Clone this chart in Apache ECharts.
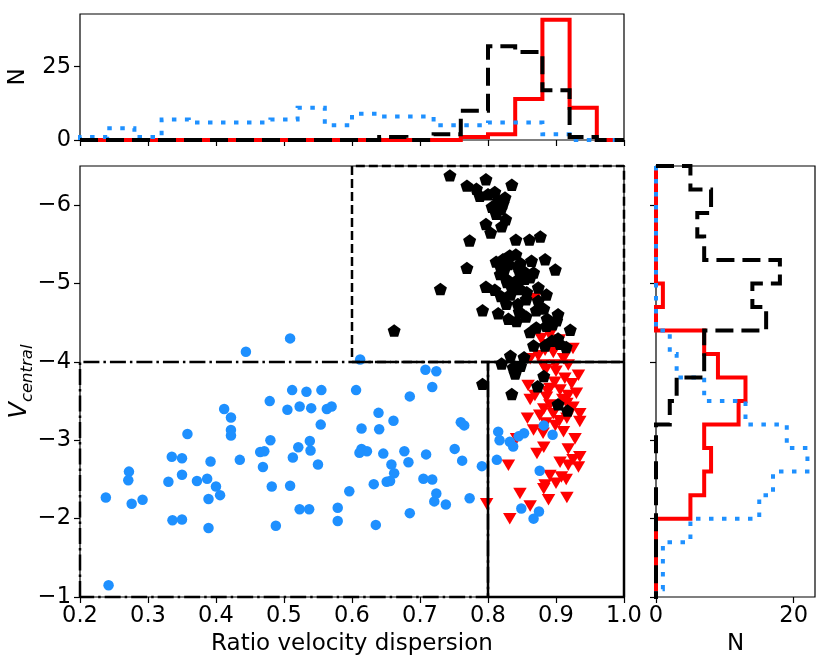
<!DOCTYPE html>
<html>
<head>
<meta charset="utf-8">
<script src="https://cdn.jsdelivr.net/npm/echarts@6/dist/echarts.min.js"></script>
<style>
  html, body { margin: 0; padding: 0; background: #fff; }
  #chart { width: 830px; height: 667px; }
</style>
</head>
<body>
<div id="chart"></div>
<script>
// scatter points: [ratio velocity dispersion, V_central]
var bluePoints = [
    [0.509,-4.30],[0.444,-4.13],[0.512,-3.64],[0.479,-3.50],[0.505,-3.39],[0.523,-3.43],[0.412,-3.40],
    [0.422,-3.29],[0.422,-3.13],[0.422,-3.06],[0.358,-3.08],[0.480,-3.00],[0.521,-2.91],[0.465,-2.85],
    [0.471,-2.86],[0.513,-2.78],[0.335,-2.79],[0.350,-2.77],[0.392,-2.73],[0.435,-2.75],[0.469,-2.66],
    [0.272,-2.60],[0.271,-2.49],[0.350,-2.56],[0.330,-2.47],[0.372,-2.48],[0.387,-2.51],[0.400,-2.41],
    [0.406,-2.30],[0.389,-2.25],[0.482,-2.41],[0.509,-2.42],[0.523,-2.12],[0.238,-2.27],[0.276,-2.19],
    [0.292,-2.24],[0.336,-1.98],[0.350,-1.99],[0.389,-1.88],[0.488,-1.91],[0.242,-1.15],
    [0.612,-4.03],[0.708,-3.90],[0.724,-3.88],[0.718,-3.68],[0.685,-3.56],[0.606,-3.64],[0.533,-3.62],
    [0.555,-3.64],[0.540,-3.41],[0.563,-3.40],[0.570,-3.43],[0.554,-3.20],[0.639,-3.35],[0.661,-3.25],
    [0.614,-3.15],[0.640,-3.14],[0.760,-3.23],[0.765,-3.19],[0.538,-2.99],[0.539,-2.87],[0.614,-2.89],
    [0.622,-2.86],[0.611,-2.84],[0.646,-2.83],[0.677,-2.86],[0.683,-2.72],[0.658,-2.69],[0.709,-2.82],
    [0.751,-2.89],[0.762,-2.74],[0.791,-2.67],[0.550,-2.69],[0.662,-2.58],[0.651,-2.47],[0.656,-2.48],
    [0.632,-2.44],[0.596,-2.35],[0.705,-2.51],[0.718,-2.50],[0.724,-2.32],[0.721,-2.22],[0.738,-2.18],
    [0.773,-2.26],[0.537,-2.12],[0.579,-2.14],[0.579,-1.97],[0.635,-1.92],[0.685,-2.07],
    [0.815,-3.11],[0.817,-3.00],[0.832,-2.98],[0.837,-2.92],[0.845,-3.05],[0.853,-3.09],[0.882,-3.19],
    [0.895,-3.07],[0.813,-2.75],[0.876,-2.61],[0.849,-2.13],[0.875,-2.09],[0.867,-2.00]
];
var blackPoints = [
    [0.744,-6.38],[0.797,-6.33],[0.769,-6.25],[0.783,-6.21],[0.835,-6.26],[0.800,-6.14],[0.810,-6.17],
    [0.825,-6.10],[0.815,-6.06],[0.819,-5.95],[0.812,-5.89],[0.797,-5.76],[0.820,-5.73],[0.804,-5.65],
    [0.773,-5.55],[0.841,-5.56],[0.861,-5.56],[0.877,-5.60],[0.822,-5.31],[0.832,-5.36],[0.841,-5.37],
    [0.818,-5.23],[0.830,-5.25],[0.864,-5.29],[0.884,-5.31],[0.899,-5.18],[0.769,-5.20],[0.818,-5.12],
    [0.847,-5.14],[0.867,-5.14],[0.827,-5.06],[0.842,-5.04],[0.854,-5.06],[0.835,-4.95],[0.847,-4.93],
    [0.857,-4.89],[0.874,-4.95],[0.730,-4.93],[0.797,-4.96],[0.819,-4.84],[0.827,-4.74],[0.844,-4.74],
    [0.874,-4.78],[0.792,-4.66],[0.871,-4.66],[0.903,-4.61],[0.830,-4.55],[0.842,-4.52],[0.887,-4.55],
    [0.901,-4.53],[0.862,-4.38],[0.871,-4.44],[0.886,-4.46],[0.921,-4.41],[0.903,-4.30],[0.894,-4.27],
    [0.662,-4.40],
    [0.915,-4.19],[0.867,-4.21],[0.884,-4.21],[0.906,-4.23],[0.833,-4.08],[0.853,-4.06],[0.820,-3.98],
    [0.837,-3.93],[0.840,-3.85],[0.882,-3.82],[0.792,-3.72],[0.873,-3.69],[0.835,-3.59],[0.903,-3.46],
    [0.917,-3.38],
    [0.788,-6.12],[0.822,-6.02],[0.806,-5.98],[0.826,-5.82],[0.812,-5.28],[0.824,-5.18],[0.844,-5.22],
    [0.848,-5.26],[0.852,-5.16],[0.828,-5.02],[0.862,-5.08],[0.810,-4.92],[0.833,-4.86],[0.856,-4.80],
    [0.886,-4.86],[0.815,-4.62],[0.846,-4.64],[0.856,-4.58],[0.882,-4.68],[0.895,-4.48],[0.848,-3.95]
];
var redPoints = [
    [0.891,-4.34],[0.884,-4.15],[0.874,-4.08],[0.896,-4.12],[0.925,-4.17],[0.911,-4.04],[0.862,-4.04],
    [0.881,-3.96],[0.899,-3.96],[0.918,-3.96],[0.933,-3.83],[0.913,-3.79],[0.923,-3.72],[0.859,-3.70],
    [0.891,-3.66],[0.906,-3.64],[0.869,-3.57],[0.886,-3.55],[0.918,-3.57],[0.891,-3.45],[0.916,-3.47],
    [0.876,-3.32],[0.896,-3.34],[0.935,-3.34],[0.916,-3.28],
    [0.867,-3.13],[0.881,-3.09],[0.899,-3.19],[0.911,-3.11],[0.842,-3.02],[0.928,-3.02],[0.882,-2.91],
    [0.872,-2.83],[0.918,-2.89],[0.935,-2.79],[0.906,-2.72],[0.918,-2.68],[0.933,-2.66],[0.830,-2.68],
    [0.891,-2.55],[0.908,-2.53],[0.884,-2.43],[0.847,-2.32],[0.889,-2.24],[0.916,-2.27],[0.862,-2.16],
    [0.798,-2.19],[0.832,-2.00],
    [0.869,-4.81],[0.878,-4.30],[0.905,-4.28],[0.885,-4.22],[0.900,-3.88],[0.885,-3.90],[0.888,-3.62],
    [0.898,-3.74],[0.930,-3.60],[0.910,-3.52],[0.862,-3.52],[0.882,-3.40],[0.905,-3.25],[0.925,-3.42],
    [0.885,-3.22],[0.935,-3.24],[0.858,-3.28],[0.925,-2.75],[0.900,-2.45],[0.915,-2.50],[0.882,-2.38]
];

// top histogram: 20 bins of 0.04 from 0.2
var topBinStart = 0.2, topBinWidth = 0.04;
var topRed   = [0,0,0,0,0,0,0,0,0,0,0,0,0,0,1,2,14,41,11,0];
var topBlack = [0,0,0,0,0,0,0,0,0,0,0,1,0,2,10,32,30,17,1,0];
var topBlue  = [1,4,1,7,6,6,6,7,11,5,9,8,8,5,5,6,6,2,0,0];

// right histogram: bins of 0.3 from -6.5
var rightBinStart = -6.5, rightBinWidth = 0.3;
var rightRed   = [0,0,0,0,0,1,0,7,9,13,12,7,8,7,5,0,0,0,0];
var rightBlack = [5,8,6,7,18,14,16,7,7,3,2,0,0,0,0,0,0,0,0];
var rightBlue  = [0,0,0,0,0,0,0,2,3,7,13,19,22,17,15,5,1,1,0];

// region boxes
var dashedBox  = [[0.6,-6.5],[0.6,-4],[1.0,-4],[1.0,-6.5],[0.6,-6.5]];
var dashDotBox = [[0.2,-1],[0.2,-4],[0.8,-4],[0.8,-1],[0.2,-1]];
var solidBox   = [[0.8,-1],[0.8,-4],[1.0,-4],[1.0,-1],[0.8,-1]];

var yTicks = [-6,-5,-4,-3,-2,-1];
var topNTicks = [0, 25];
var rightNTicks = [0, 20];

var BLUE = '#1E90FF', RED = '#FF0000', BLACK = '#000000';
var FONT = 'DejaVu Sans';

function edgesOf(start, width, n) {
    var e = [];
    for (var i = 0; i <= n; i++) e.push(+(start + i * width).toFixed(4));
    return e;
}
// outline of a step histogram, like matplotlib histtype='step'
function stepPoints(edges, counts, horizontal) {
    var pts = [[edges[0], 0]];
    for (var i = 0; i < counts.length; i++) {
        pts.push([edges[i], counts[i]]);
        pts.push([edges[i + 1], counts[i]]);
    }
    pts.push([edges[counts.length], 0]);
    if (horizontal) {
        pts = pts.map(function (p) { return [p[1], p[0]]; });
    }
    return pts;
}

var topEdges = edgesOf(topBinStart, topBinWidth, topRed.length);
var rightEdges = edgesOf(rightBinStart, rightBinWidth, rightRed.length);

var pentagon = 'path://M0,-1L0.951,-0.309L0.588,0.809L-0.588,0.809L-0.951,-0.309Z';
var minus = function (v) { return v < 0 ? '\u2212' + Math.abs(v) : '' + v; };

var tick = { show: true, length: 6, lineStyle: { color: BLACK, width: 1.2 } };
var labelStyle = { color: BLACK, fontSize: 22.5, fontFamily: FONT };
var nameStyle = { color: BLACK, fontSize: 23, fontFamily: FONT };

function histLine(data, xi, yi, color, type, z) {
    return {
        type: 'line', xAxisIndex: xi, yAxisIndex: yi, data: data,
        symbol: 'none', animation: false, z: z,
        lineStyle: { color: color, width: 4, type: type, cap: 'butt', join: 'miter' }
    };
}
function boxLine(data, type, z) {
    return {
        type: 'line', xAxisIndex: 0, yAxisIndex: 0, data: data,
        symbol: 'none', animation: false, clip: false, z: z,
        lineStyle: { color: BLACK, width: 2.5, type: type, cap: 'butt' }
    };
}

var chart = echarts.init(document.getElementById('chart'));
var option = {
    backgroundColor: '#fff',
    animation: false,
    textStyle: { fontFamily: FONT },
    grid: [
        { left: 80, top: 166, width: 544, height: 431, show: true, borderColor: BLACK, borderWidth: 1.2, containLabel: false, outerBoundsMode: 'none' },
        { left: 80, top: 14, width: 544, height: 126, show: true, borderColor: BLACK, borderWidth: 1.2, containLabel: false, outerBoundsMode: 'none' },
        { left: 656, top: 166, width: 159, height: 431, show: true, borderColor: BLACK, borderWidth: 1.2, containLabel: false, outerBoundsMode: 'none' }
    ],
    xAxis: [
        {
            gridIndex: 0, type: 'value', min: 0.2, max: 1.0, interval: 0.1,
            axisLine: { show: false }, splitLine: { show: false }, axisTick: tick,
            axisLabel: Object.assign({ margin: 8, formatter: function (v) { return v.toFixed(1); } }, labelStyle),
            name: 'Ratio velocity dispersion', nameLocation: 'middle', nameGap: 36,
            nameMoveOverlap: false,
            nameTextStyle: nameStyle
        },
        {
            gridIndex: 1, type: 'value', min: 0.2, max: 1.0, interval: 0.1,
            axisLine: { show: false }, splitLine: { show: false }, axisTick: tick,
            axisLabel: { show: false }
        },
        {
            gridIndex: 2, type: 'value', min: 0, max: 23.1,
            axisLine: { show: false }, splitLine: { show: false },
            axisTick: Object.assign({ customValues: rightNTicks }, tick),
            axisLabel: Object.assign({ margin: 8, customValues: rightNTicks }, labelStyle),
            name: 'N', nameLocation: 'middle', nameGap: 36,
            nameMoveOverlap: false,
            nameTextStyle: nameStyle
        }
    ],
    yAxis: [
        {
            gridIndex: 0, type: 'value', min: -6.5, max: -1, inverse: true,
            axisLine: { show: false }, splitLine: { show: false },
            axisTick: Object.assign({ customValues: yTicks }, tick),
            axisLabel: Object.assign({ margin: 9, customValues: yTicks, formatter: minus }, labelStyle),
            name: '{v|V}{s|central}', nameLocation: 'middle', nameGap: 44,
            nameMoveOverlap: false,
            nameTextStyle: {
                color: BLACK,
                rich: {
                    v: { fontSize: 24, fontStyle: 'italic', fontFamily: FONT, color: BLACK },
                    s: { fontSize: 16.5, fontStyle: 'italic', fontFamily: FONT, color: BLACK, padding: [15, 0, 0, 0] }
                }
            }
        },
        {
            gridIndex: 1, type: 'value', min: 0, max: 43,
            axisLine: { show: false }, splitLine: { show: false },
            axisTick: Object.assign({ customValues: topNTicks }, tick),
            axisLabel: Object.assign({ margin: 9, customValues: topNTicks }, labelStyle),
            name: 'N', nameLocation: 'middle', nameGap: 50,
            nameMoveOverlap: false,
            nameTextStyle: nameStyle
        },
        {
            gridIndex: 2, type: 'value', min: -6.5, max: -1, inverse: true,
            axisLine: { show: false }, splitLine: { show: false },
            axisTick: Object.assign({ customValues: yTicks }, tick),
            axisLabel: { show: false }
        }
    ],
    series: [
        // scatter
        {
            type: 'scatter', xAxisIndex: 0, yAxisIndex: 0, data: redPoints, z: 2,
            symbol: 'triangle', symbolRotate: 180, symbolSize: [13.5, 11.5],
            itemStyle: { color: RED, opacity: 1 }
        },
        {
            type: 'scatter', xAxisIndex: 0, yAxisIndex: 0, data: blackPoints, z: 3,
            symbol: pentagon, symbolSize: [13, 12.4],
            itemStyle: { color: BLACK, opacity: 1 }
        },
        {
            type: 'scatter', xAxisIndex: 0, yAxisIndex: 0, data: bluePoints, z: 4,
            symbol: 'circle', symbolSize: 10.5,
            itemStyle: { color: BLUE, opacity: 1 }
        },
        // region boxes
        boxLine(dashDotBox, [16, 4, 2.5, 4], 5),
        boxLine(dashedBox, [9, 4], 5),
        boxLine(solidBox, 'solid', 6),
        // top histogram
        histLine(stepPoints(topEdges, topRed, false), 1, 1, RED, 'solid', 2),
        histLine(stepPoints(topEdges, topBlue, false), 1, 1, BLUE, [4.5, 8.5], 3),
        histLine(stepPoints(topEdges, topBlack, false), 1, 1, BLACK, [18, 8], 4),
        // right histogram
        histLine(stepPoints(rightEdges, rightRed, true), 2, 2, RED, 'solid', 2),
        histLine(stepPoints(rightEdges, rightBlue, true), 2, 2, BLUE, [4.5, 8.5], 3),
        histLine(stepPoints(rightEdges, rightBlack, true), 2, 2, BLACK, [18, 8], 4)
    ]
};
chart.setOption(option);
</script>
</body>
</html>
